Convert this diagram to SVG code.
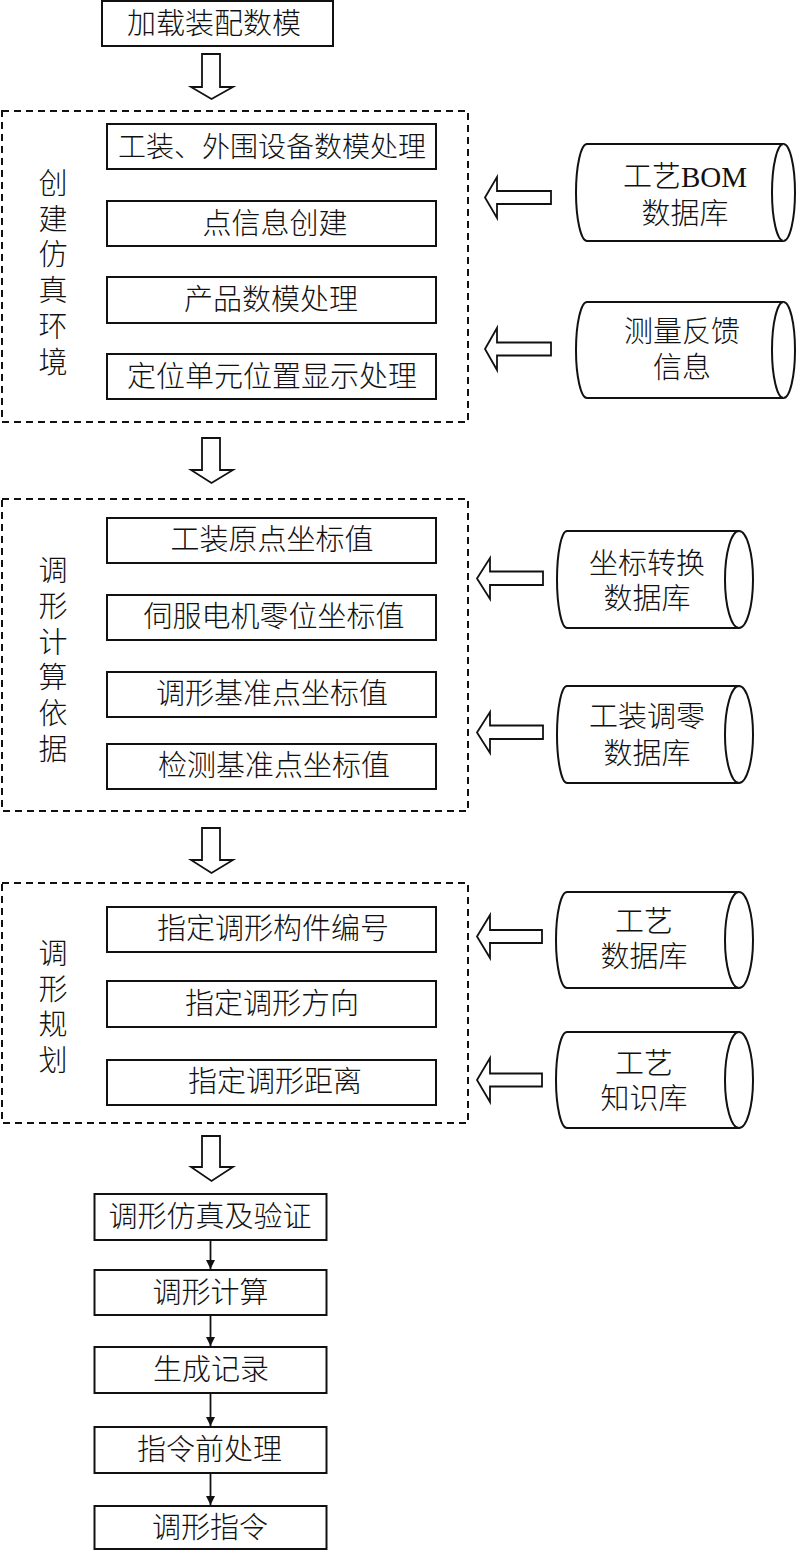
<svg xmlns="http://www.w3.org/2000/svg" width="800" height="1551" viewBox="0 0 800 1551">
<defs>
<style>
text{font-family:"Liberation Serif","Noto Sans CJK SC",serif;font-size:29px;font-weight:300;fill:#111;text-anchor:middle;dominant-baseline:central;}
.box{fill:#fff;stroke:#111;stroke-width:2;}
.dash{fill:none;stroke:#111;stroke-width:2;stroke-dasharray:7,5;}
.hollow{fill:#fff;stroke:#111;stroke-width:1.8;stroke-linejoin:miter;}
.cyl{fill:#fff;stroke:#111;stroke-width:2;}
.line{fill:none;stroke:#111;stroke-width:1.8;}
</style>
<marker id="ah" viewBox="0 0 10 10" refX="10" refY="5" markerWidth="9" markerHeight="12" markerUnits="userSpaceOnUse" orient="auto">
<path d="M0,0 L10,5 L0,10 Z" fill="#111"/>
</marker>
</defs>

<g id="groups">
<rect id="group1" class="dash" x="2" y="111" width="466" height="311"/>
<rect id="group2" class="dash" x="2" y="499" width="466" height="312"/>
<rect id="group3" class="dash" x="2" y="883" width="466" height="240"/>
<text x="53" y="184">创</text>
<text x="53" y="219.7">建</text>
<text x="53" y="255.4">仿</text>
<text x="53" y="291.1">真</text>
<text x="53" y="326.8">环</text>
<text x="53" y="362.5">境</text>
<text x="53" y="571">调</text>
<text x="53" y="606.8">形</text>
<text x="53" y="642.6">计</text>
<text x="53" y="678.4">算</text>
<text x="53" y="714.2">依</text>
<text x="53" y="750">据</text>
<text x="53" y="954">调</text>
<text x="53" y="989.7">形</text>
<text x="53" y="1025.4">规</text>
<text x="53" y="1061.1">划</text>
</g>

<g id="n_load"><rect class="box" x="102" y="1" width="231" height="45"/><text x="214" y="24">加载装配数模</text></g>

<g id="n_tool"><rect class="box" x="107" y="124" width="329" height="45"/><text x="272" y="147" style="font-size:28px">工装、外围设备数模处理</text></g>
<g id="n_point"><rect class="box" x="107" y="201" width="329" height="45"/><text x="275" y="224">点信息创建</text></g>
<g id="n_prod"><rect class="box" x="107" y="277" width="329" height="46"/><text x="271" y="300">产品数模处理</text></g>
<g id="n_pos"><rect class="box" x="107" y="354" width="329" height="45"/><text x="272" y="377">定位单元位置显示处理</text></g>

<g id="n_orig"><rect class="box" x="107" y="518" width="329" height="45"/><text x="272" y="540">工装原点坐标值</text></g>
<g id="n_servo"><rect class="box" x="107" y="595" width="329" height="45"/><text x="274" y="617">伺服电机零位坐标值</text></g>
<g id="n_ref"><rect class="box" x="107" y="672" width="329" height="45"/><text x="272" y="694">调形基准点坐标值</text></g>
<g id="n_det"><rect class="box" x="107" y="744" width="329" height="45"/><text x="274" y="766">检测基准点坐标值</text></g>

<g id="n_num"><rect class="box" x="107" y="907" width="329" height="45"/><text x="273" y="929">指定调形构件编号</text></g>
<g id="n_dir"><rect class="box" x="107" y="981" width="329" height="46"/><text x="272" y="1004">指定调形方向</text></g>
<g id="n_dist"><rect class="box" x="107" y="1060" width="329" height="45"/><text x="275" y="1082">指定调形距离</text></g>

<g id="n_sim"><rect class="box" x="94.5" y="1194" width="232" height="46"/><text x="210" y="1217">调形仿真及验证</text></g>
<g id="n_calc"><rect class="box" x="94.5" y="1270" width="232" height="45"/><text x="210.5" y="1292.5">调形计算</text></g>
<g id="n_rec"><rect class="box" x="94.5" y="1347" width="232" height="46"/><text x="211" y="1370">生成记录</text></g>
<g id="n_pre"><rect class="box" x="94.5" y="1427" width="232" height="46"/><text x="209.5" y="1450">指令前处理</text></g>
<g id="n_cmd"><rect class="box" x="94.5" y="1506" width="232" height="43"/><text x="210" y="1527.5">调形指令</text></g>

<g id="db_bom">
<path class="cyl" d="M587,144 L783.5,144 A11.5,48.5 0 0 1 783.5,241 L587,241 A11,48.5 0 0 1 587,144 Z"/>
<path class="cyl" d="M783.5,144 A11.5,48.5 0 0 0 783.5,241"/>
<text x="685" y="177">工艺BOM</text><text x="685" y="214">数据库</text>
</g>
<g id="db_meas">
<path class="cyl" d="M587,302 L783.5,302 A11.5,48 0 0 1 783.5,398 L587,398 A11,48 0 0 1 587,302 Z"/>
<path class="cyl" d="M783.5,302 A11.5,48 0 0 0 783.5,398"/>
<text x="682" y="332">测量反馈</text><text x="682" y="368">信息</text>
</g>
<g id="db_coord">
<path class="cyl" d="M567,531 L739,531 A14,48.5 0 0 1 739,628 L567,628 A10,48.5 0 0 1 567,531 Z"/>
<path class="cyl" d="M739,531 A14,48.5 0 0 0 739,628"/>
<text x="647" y="564">坐标转换</text><text x="647" y="599">数据库</text>
</g>
<g id="db_zero">
<path class="cyl" d="M567,686 L739,686 A14,48.5 0 0 1 739,783 L567,783 A10,48.5 0 0 1 567,686 Z"/>
<path class="cyl" d="M739,686 A14,48.5 0 0 0 739,783"/>
<text x="647" y="717">工装调零</text><text x="647" y="754">数据库</text>
</g>
<g id="db_proc">
<path class="cyl" d="M567,892 L739,892 A14,48 0 0 1 739,988 L567,988 A11,48 0 0 1 567,892 Z"/>
<path class="cyl" d="M739,892 A14,48 0 0 0 739,988"/>
<text x="644" y="921.5">工艺</text><text x="644" y="957">数据库</text>
</g>
<g id="db_know">
<path class="cyl" d="M567,1032 L739,1032 A14,48 0 0 1 739,1128 L567,1128 A11,48 0 0 1 567,1032 Z"/>
<path class="cyl" d="M739,1032 A14,48 0 0 0 739,1128"/>
<text x="644" y="1063.5">工艺</text><text x="644" y="1099">知识库</text>
</g>

<g id="connectors">
<path class="hollow" d="M202,54 L220,54 L220,87 L233,87 L211.5,99 L191,87 L202,87 Z"/>
<path class="hollow" d="M202,438 L220,438 L220,470 L233,470 L211.5,483 L191,470 L202,470 Z"/>
<path class="hollow" d="M202,828 L220,828 L220,860 L233,860 L211.5,873 L191,860 L202,860 Z"/>
<path class="hollow" d="M202,1136 L220,1136 L220,1167 L233,1167 L211.5,1181 L191,1167 L202,1167 Z"/>

<path class="hollow" d="M485,197.5 L497,177 L497,191 L551,191 L551,204 L497,204 L497,218 Z"/>
<path class="hollow" d="M485,349 L497,328 L497,342.5 L551,342.5 L551,355.5 L497,355.5 L497,370 Z"/>
<path class="hollow" d="M477,578.5 L490,558 L490,571.5 L543,571.5 L543,585 L490,585 L490,599 Z"/>
<path class="hollow" d="M477,732.5 L490,712 L490,725.5 L543,725.5 L543,739 L490,739 L490,753 Z"/>
<path class="hollow" d="M477,936.5 L490,915 L490,930 L542,930 L542,943 L490,943 L490,958 Z"/>
<path class="hollow" d="M477,1080 L490,1058 L490,1073.5 L542,1073.5 L542,1086.5 L490,1086.5 L490,1102 Z"/>

<line class="line" x1="210.5" y1="1241" x2="210.5" y2="1269" marker-end="url(#ah)"/>
<line class="line" x1="210.5" y1="1316" x2="210.5" y2="1346" marker-end="url(#ah)"/>
<line class="line" x1="210.5" y1="1394" x2="210.5" y2="1426" marker-end="url(#ah)"/>
<line class="line" x1="210.5" y1="1474" x2="210.5" y2="1505" marker-end="url(#ah)"/>
</g>
</svg>
